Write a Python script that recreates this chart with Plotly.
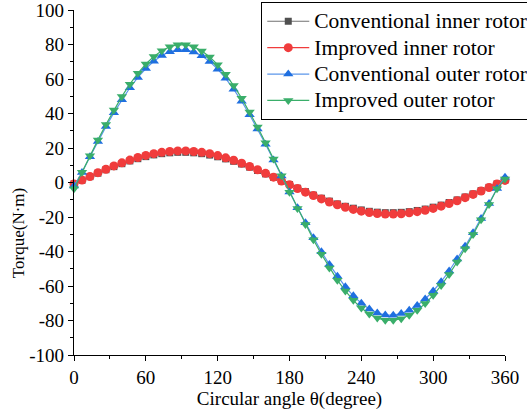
import plotly.graph_objects as go

angle = [0, 6.67, 13.33, 20, 26.67, 33.33, 40, 46.67, 53.33, 60, 66.67, 73.33, 80, 86.67,
         93.33, 100, 106.67, 113.33, 120, 126.67, 133.33, 140, 146.67, 153.33, 160, 166.67,
         173.33, 180, 186.67, 193.33, 200, 206.67, 213.33, 220, 226.67, 233.33, 240, 246.67,
         253.33, 260, 266.67, 273.33, 280, 286.67, 293.33, 300, 306.67, 313.33, 320, 326.67,
         333.33, 340, 346.67, 353.33, 360]

conv_inner = [-0.8, 1.3, 3.4, 5.4, 7.4, 9.2, 10.9, 12.5, 13.8, 15.0, 16.0, 16.7, 17.2, 17.5,
              17.5, 17.2, 16.7, 15.9, 14.9, 13.7, 12.3, 10.7, 8.9, 7.0, 5.0, 3.0,
              0.9, -1.2, -3.3, -5.3, -7.3, -9.1, -10.8, -12.4, -13.8, -14.9, -15.9, -16.7,
              -17.2, -17.5, -17.5, -17.3, -16.9, -16.2, -15.4, -14.3, -13.1, -11.6, -10.1, -8.4,
              -6.6, -4.7, -2.8, -0.8, 1.4]

impr_inner = [-0.8, 1.4, 3.5, 5.7, 7.7, 9.6, 11.4, 13.0, 14.5, 15.7, 16.7, 17.5, 18.0, 18.3,
              18.3, 18.0, 17.5, 16.7, 15.6, 14.3, 12.9, 11.2, 9.3, 7.4, 5.3, 3.1,
              0.9, -1.3, -3.5, -5.6, -7.6, -9.5, -11.3, -12.9, -14.4, -15.6, -16.6, -17.4,
              -18.0, -18.3, -18.3, -18.1, -17.6, -16.9, -16.1, -15.0, -13.7, -12.2, -10.6, -8.8,
              -6.9, -4.9, -2.9, -0.8, 1.2]

conv_outer = [-2.0, 5.8, 14.9, 23.8, 32.4, 40.5, 48.0, 54.9, 60.9, 66.1, 70.3, 73.6, 75.8, 76.9,
              76.9, 75.7, 73.5, 70.1, 65.7, 60.4, 54.1, 47.1, 39.3, 31.0, 22.2, 13.1,
              3.7, -5.5, -14.6, -23.4, -32.0, -40.1, -47.6, -54.4, -60.5, -65.7, -70.0, -73.3,
              -75.6, -76.8, -76.9, -76.0, -74.1, -71.3, -67.5, -62.9, -57.5, -51.3, -44.4, -37.0,
              -29.1, -20.8, -12.2, -3.5, 3.0]

impr_outer = [-3.6, 6.0, 15.5, 24.7, 33.6, 42.0, 49.9, 57.0, 63.3, 68.7, 73.1, 76.4, 78.7, 79.9,
              79.8, 78.7, 76.3, 72.8, 68.3, 62.7, 56.2, 48.9, 40.8, 32.2, 23.0, 13.6,
              3.9, -5.7, -15.1, -24.4, -33.2, -41.6, -49.5, -56.6, -62.9, -68.3, -72.8, -76.2,
              -78.6, -79.8, -79.9, -79.0, -77.0, -74.1, -70.2, -65.4, -59.7, -53.3, -46.1, -38.4,
              -30.2, -21.6, -12.7, -3.6, 2.0]

x_ticks = [0, 60, 120, 180, 240, 300, 360]
y_ticks = [-100, -80, -60, -40, -20, 0, 20, 40, 60, 80, 100]

FONT = "Times New Roman, Liberation Serif, serif"

series = [
    ("Conventional inner rotor", conv_inner, "#505050", "#707070", "square", 7),
    ("Improved inner rotor", impr_inner, "#F03C3C", "#F03C3C", "circle", 9),
    ("Conventional outer rotor", conv_outer, "#1F6FE0", "#5B96EA", "triangle-up", 9),
    ("Improved outer rotor", impr_outer, "#3AAE6A", "#3AAE6A", "triangle-down", 9),
]

fig = go.Figure()
for name, vals, mcol, lcol, sym, size in series:
    fig.add_trace(go.Scatter(
        x=angle, y=vals, mode="lines+markers",
        name='<span style="font-size:21.5px">' + name + '</span>',
        line=dict(color=lcol, width=1.2),
        marker=dict(symbol=sym, size=size, color=mcol, line=dict(width=0)),
        cliponaxis=False,
    ))

fig.update_layout(
    width=527, height=418,
    margin=dict(l=73.5, r=22, t=10, b=63, autoexpand=False),
    paper_bgcolor="white", plot_bgcolor="white",
    font=dict(family=FONT, size=19, color="black"),
    showlegend=True,
    legend=dict(
        x=0.4345, y=1.023, xanchor="left", yanchor="top",
        bgcolor="white", bordercolor="black", borderwidth=1,
        font=dict(family=FONT, size=18, color="black"),
        itemwidth=42, tracegroupgap=0,
    ),
    xaxis=dict(
        range=[0, 360], tickvals=x_ticks, ticktext=[str(v) for v in x_ticks],
        showgrid=False, zeroline=False, showline=True, linecolor="black", linewidth=1.3,
        ticks="outside", ticklen=5, tickwidth=1.2, tickcolor="black",
        minor=dict(tickvals=[30, 90, 150, 210, 270, 330], ticks="outside", ticklen=3,
                   tickcolor="black", tickwidth=1.2, showgrid=False),
        title=dict(text="Circular angle θ(degree)", font=dict(family=FONT, size=19), standoff=4),
        tickfont=dict(family=FONT, size=19), ticklabeloverflow="allow",
    ),
    yaxis=dict(
        range=[-100, 100], tickvals=y_ticks, ticktext=[str(v) for v in y_ticks],
        showgrid=False, zeroline=False, showline=True, linecolor="black", linewidth=1.3,
        ticks="outside", ticklen=5, tickwidth=1.2, tickcolor="black",
        minor=dict(tickvals=[-90, -70, -50, -30, -10, 10, 30, 50, 70, 90], ticks="outside",
                   ticklen=3, tickcolor="black", tickwidth=1.2, showgrid=False),
        tickfont=dict(family=FONT, size=19), ticklabeloverflow="allow",
    ),
    annotations=[dict(
        text="Torque(N·m)", textangle=-90, xref="paper", yref="paper",
        x=-0.1286, y=0.352, xanchor="center", yanchor="middle", showarrow=False,
        font=dict(family=FONT, size=17, color="black"),
    )],
)

fig.write_html("out.html", post_script="document.body.style.margin='0';",
               config={"displayModeBar": False})
